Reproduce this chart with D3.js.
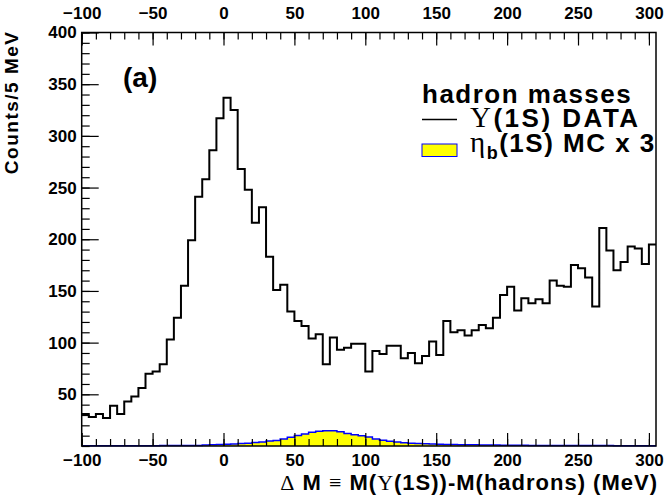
<!DOCTYPE html>
<html>
<head>
<meta charset="utf-8">
<script src="https://cdn.jsdelivr.net/npm/d3@7"></script>
<style>
body{margin:0;background:#fff;}
svg{display:block;font-family:"Liberation Sans",Arial,sans-serif;font-weight:bold;}
.sym{font-family:"Liberation Serif","DejaVu Serif",serif;font-weight:normal;}
</style>
</head>
<body>
<div id="chart"></div>
<script>
// bins: 5 MeV wide, first bin starts at -100 MeV
var binStart = -100;
var binWidth = 5;

// Upsilon(1S) data, counts per bin
var dataCounts = [
    31, 28, 31, 27, 39, 31, 43, 48, 56, 70, 72, 79, 103, 124, 155, 199,
    241, 258, 286, 317, 337, 325, 268, 248, 216, 231, 183,
    151, 156, 130, 121, 116, 104, 108, 79, 105, 93, 95, 99, 99,
    72, 92, 89, 97, 97, 85, 90, 80, 87, 101, 88, 121, 110, 112, 107, 112, 117, 114, 124, 146, 154,
    131, 143, 138, 142, 138, 160, 155, 154, 175, 172, 163, 135, 211, 189, 170, 178, 193, 191, 176, 195
];

// eta_b(1S) MC x 3
var mcCounts = [
    0.3, 0.3, 0.3, 0.3, 0.3, 0.3, 0.3, 0.3, 0.3, 0.3, 0.3,
    0.5, 0.5, 0.5, 0.5, 0.5, 0.5,
    1.0, 1.2, 1.4,
    1.7, 2.0, 2.3, 2.6,
    3.4, 3.8, 4.8, 5.3, 6.8, 8.4, 10.2, 11.6, 13.2,
    14.3, 14.8, 14.8,
    13.9, 12.2, 11.0, 10.0, 8.7, 6.8, 5.5, 4.5, 3.9, 3.2, 2.6, 2.3, 2.1, 1.9, 1.8,
    1.5, 1.4, 1.3, 1.2, 1.1, 1.0, 0.9, 0.9, 0.8, 0.8,
    0.7, 0.7, 0.6, 0.6, 0.6, 0.5, 0.5, 0.5, 0.5, 0.4, 0.4, 0.4, 0.4, 0.4, 0.3, 0.3, 0.3, 0.3, 0.3, 0.3
];

var xTicks = [-100, -50, 0, 50, 100, 150, 200, 250, 300];
var yTicks = [50, 100, 150, 200, 250, 300, 350, 400];

var W = 665, H = 498;
var plot = {x0: 81.7, x1: 656, y0: 32.5, y1: 446};

var svg = d3.select("#chart").append("svg")
    .attr("width", W)
    .attr("height", H);

var xEnd = binStart + dataCounts.length * binWidth;
var xScale = d3.scaleLinear().domain([binStart, xEnd]).range([plot.x0, plot.x1]);
var yScale = d3.scaleLinear().domain([0, 400]).range([plot.y1, plot.y0]);

function stepPoints(arr) {
    var pts = arr.map(function(v, i) { return [binStart + i * binWidth, v]; });
    pts.push([xEnd, arr[arr.length - 1]]);
    return pts;
}

// MC histogram
var mcPts = stepPoints(mcCounts);
svg.append("path")
    .attr("d", d3.area().curve(d3.curveStepAfter)
        .x(function(d) { return xScale(d[0]); })
        .y0(yScale(0))
        .y1(function(d) { return yScale(d[1]); })(mcPts))
    .attr("fill", "#ffff00");
svg.append("path")
    .attr("d", d3.line().curve(d3.curveStepAfter)
        .x(function(d) { return xScale(d[0]); })
        .y(function(d) { return yScale(d[1]); })(mcPts))
    .attr("fill", "none")
    .attr("stroke", "#0000ff")
    .attr("stroke-width", 1.5);

// data histogram
svg.append("path")
    .attr("d", d3.line().curve(d3.curveStepAfter)
        .x(function(d) { return xScale(d[0]); })
        .y(function(d) { return yScale(d[1]); })(stepPoints(dataCounts)))
    .attr("fill", "none")
    .attr("stroke", "#000")
    .attr("stroke-width", 2);

// axes
var minorX = d3.range(binStart, xEnd, 10);
var minorY = d3.range(0, 401, 10);

function clean(g) {
    g.select(".domain").remove();
    g.selectAll("line").attr("stroke", "#000").attr("stroke-width", 1.2);
}

svg.append("g").attr("transform", "translate(0," + plot.y1 + ")")
    .call(d3.axisBottom(xScale).tickValues(minorX).tickSize(-7).tickFormat(""))
    .call(clean);
svg.append("g").attr("transform", "translate(0," + plot.y1 + ")")
    .call(d3.axisBottom(xScale).tickValues(xTicks).tickSize(-13).tickPadding(8))
    .call(clean)
    .selectAll("text").style("font-size", "17px").attr("fill", "#000");

svg.append("g").attr("transform", "translate(0," + plot.y0 + ")")
    .call(d3.axisTop(xScale).tickValues(minorX).tickSize(-7).tickFormat(""))
    .call(clean);
svg.append("g").attr("transform", "translate(0," + plot.y0 + ")")
    .call(d3.axisTop(xScale).tickValues(xTicks).tickSize(-13).tickPadding(14))
    .call(clean)
    .selectAll("text").style("font-size", "17px").attr("fill", "#000");

svg.append("g").attr("transform", "translate(" + plot.x0 + ",0)")
    .call(d3.axisLeft(yScale).tickValues(minorY).tickSize(-8).tickFormat(""))
    .call(clean);
svg.append("g").attr("transform", "translate(" + plot.x0 + ",0)")
    .call(d3.axisLeft(yScale).tickValues(yTicks).tickSize(-17).tickPadding(5))
    .call(clean)
    .selectAll("text").style("font-size", "17px").attr("fill", "#000");

// frame
svg.append("rect")
    .attr("x", plot.x0).attr("y", plot.y0)
    .attr("width", plot.x1 - plot.x0).attr("height", plot.y1 - plot.y0)
    .attr("fill", "none").attr("stroke", "#000").attr("stroke-width", 1.5);

// axis titles
svg.append("text")
    .attr("transform", "translate(18," + (plot.y0 - 2) + ") rotate(-90)")
    .attr("text-anchor", "end")
    .style("font-size", "19px")
    .style("letter-spacing", "1.5px")
    .text("Counts/5 MeV");

var xt = svg.append("text")
    .attr("x", plot.x1 + 2).attr("y", 490)
    .attr("text-anchor", "end")
    .style("font-size", "22px")
    .style("letter-spacing", "1px");
xt.append("tspan").attr("class", "sym").text("\u0394");
xt.append("tspan").text(" M ");
xt.append("tspan").attr("class", "sym").text("\u2261");
xt.append("tspan").text(" M(");
xt.append("tspan").attr("class", "sym").text("\u03A5");
xt.append("tspan").text("(1S))-M(hadrons) (MeV)");

// (a)
svg.append("text")
    .attr("x", 123).attr("y", 87)
    .style("font-size", "28px")
    .text("(a)");

// legend
svg.append("text")
    .attr("x", 422).attr("y", 103)
    .style("font-size", "26px")
    .style("letter-spacing", "1.5px")
    .text("hadron masses");

svg.append("line")
    .attr("x1", 422).attr("x2", 457)
    .attr("y1", 119.5).attr("y2", 119.5)
    .attr("stroke", "#000").attr("stroke-width", 1.5);
var l1 = svg.append("text").attr("x", 470).attr("y", 127)
    .style("font-size", "26px").style("letter-spacing", "2.5px");
l1.append("tspan").attr("class", "sym").style("font-size", "29px").text("\u03A5");
l1.append("tspan").text("(1S) DATA");

svg.append("rect")
    .attr("x", 422).attr("y", 144)
    .attr("width", 35).attr("height", 12.5)
    .attr("fill", "#ffff00").attr("stroke", "#0000ff").attr("stroke-width", 1);
var l2 = svg.append("text").attr("x", 470).attr("y", 152)
    .style("font-size", "26px").style("letter-spacing", "1.5px");
l2.append("tspan").attr("class", "sym").style("font-size", "29px").text("\u03B7");
l2.append("tspan").attr("dy", 7).style("font-size", "18px").text("b");
l2.append("tspan").attr("dy", -7).text("(1S) MC x 3");
</script>
</body>
</html>
